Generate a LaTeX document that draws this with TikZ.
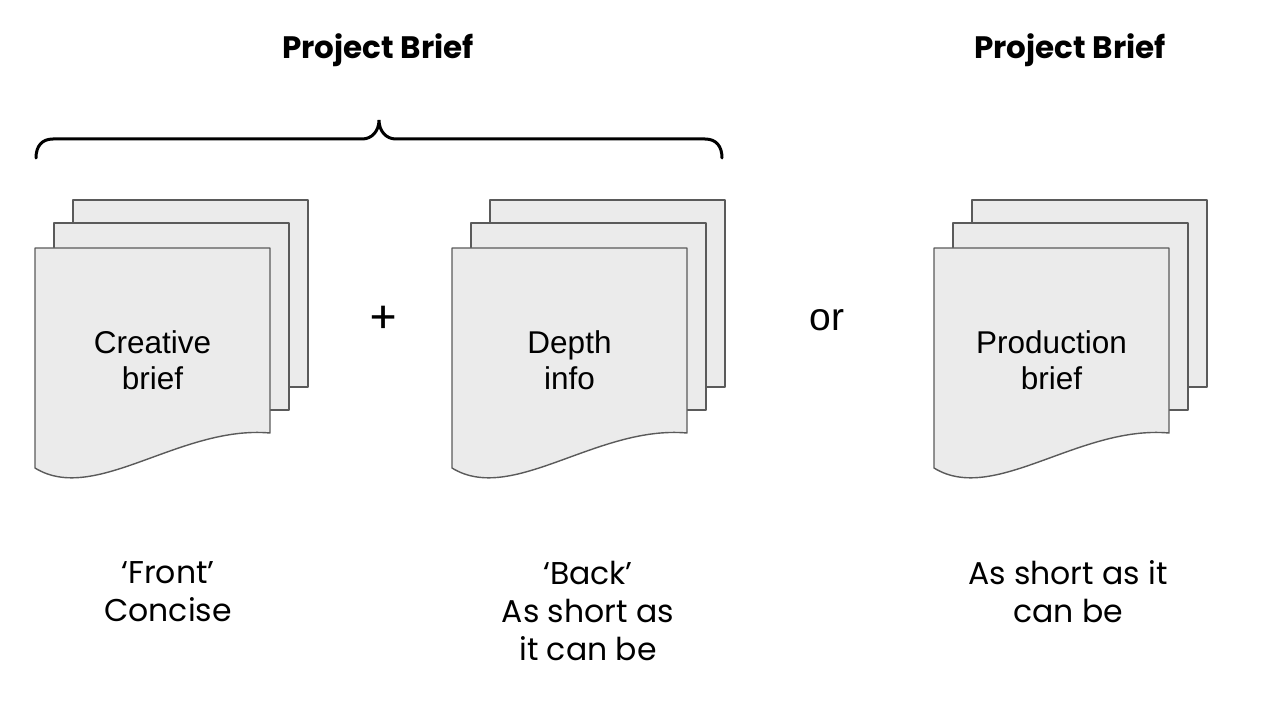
\documentclass[tikz,border=0pt]{standalone}
\usepackage{fontspec}
\setmainfont{Poppins}
\newfontfamily\sheetfont{Liberation Sans}
\usepackage{xcolor}
\definecolor{sheetfill}{RGB}{235,235,235}
\definecolor{sheetline}{RGB}{90,90,90}
\tikzset{
  % one paper sheet
  sheet/.style={draw=sheetline, fill=sheetfill, line width=1.4pt, line join=round},
  % text on the front sheet
  sheetlabel/.style={font=\sheetfont\fontsize{31.5}{36}\selectfont, align=center, inner sep=0pt},
  % heading above a stack
  headlabel/.style={font=\bfseries\fontsize{31}{36}\selectfont, inner sep=0pt},
  % note below a stack
  notelabel/.style={font=\fontsize{31.5}{38}\selectfont, align=center, inner sep=0pt},
  % + and or between stacks
  oplabel/.style={font=\sheetfont\fontsize{39}{42}\selectfont, inner sep=0pt},
  % curly brace
  bracket/.style={line width=3pt, line cap=round},
}
% stack of three sheets: name, left x of front sheet, label
\newcommand{\docstack}[3]{%
  \draw[sheet] (#2+38,200) rectangle ++(235,187);
  \draw[sheet] (#2+19,223) rectangle ++(235,187);
  \draw[sheet] (#2,248) -- (#2,468)
    .. controls (#2+60,505) and (#2+145,425) .. (#2+235,433) -- (#2+235,248) -- cycle;
  \node[sheetlabel] (#1) at (#2+117.5,360) {#3};
}

\begin{document}
\begin{tikzpicture}[x=1pt, y=-1pt]
  \useasboundingbox (0,0) rectangle (1265,719);

  % headings
  \node[headlabel] (briefA) at (378,50) {Project Brief};
  \node[headlabel] (briefB) at (1070,50) {Project Brief};

  % brace over the first two stacks
  \draw[bracket] (36,158) .. controls (36,146) and (42,139) .. (53,139) -- (362,139)
    .. controls (372,139) and (379,131) .. (379,120)
    .. controls (379,131) and (386,139) .. (396,139) -- (705,139)
    .. controls (716,139) and (722,146) .. (722,158);

  % stacks
  \docstack{creative}{35}{Creative\\brief}
  \docstack{depth}{452}{Depth\\info}
  \docstack{production}{934}{Production\\brief}

  \node[oplabel, font=\fontsize{44}{48}\selectfont] (plus) at (384,320) {+};
  \node[oplabel] (or) at (827,320) {or};

  % notes
  \node[notelabel] (noteA) at (168,592) {‘Front’\\Concise};
  \node[notelabel] (noteB) at (588,611) {‘Back’\\As short as\\it can be};
  \node[notelabel] (noteC) at (1068,592) {As short as it\\can be};
\end{tikzpicture}
\end{document}
